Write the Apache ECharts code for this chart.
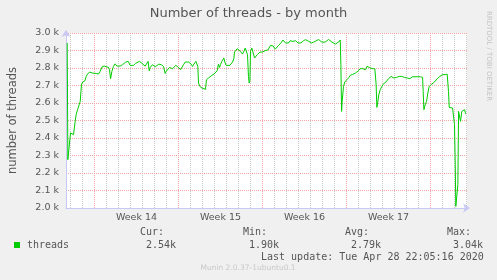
<!DOCTYPE html>
<html>
<head>
<meta charset="utf-8">
<script src="https://cdn.jsdelivr.net/npm/echarts@6/dist/echarts.min.js"></script>
<style>
html,body{margin:0;padding:0;background:#f0f0f0;}
#c{width:497px;height:280px;}
</style>
</head>
<body>
<div id="c"></div>
<script>
// x = days since Monday of week 14 (00:00)
const days = [
-2.275,-2.22,-2.17,-2.0,-1.89,-1.75,-1.61,-1.53,-1.41,-1.275,-1.19,-1.13,-1.08,-0.97,-0.80,-0.69,-0.58,-0.41,-0.25,-0.16,
-0.025,0.14,0.33,0.47,0.64,0.81,0.97,1.17,1.25,1.34,1.45,1.58,1.72,1.86,2.0,2.14,2.33,2.47,2.61,2.81,
2.97,3.11,3.25,3.42,3.58,3.75,3.86,4.03,4.22,4.36,4.47,4.56,4.64,4.72,4.83,4.92,5.06,5.2,5.36,5.56,
5.75,5.89,5.97,6.08,6.25,6.31,6.50,6.64,6.78,6.89,7.0,7.17,7.28,7.42,7.56,7.70,7.84,7.95,8.06,8.17,
8.28,8.45,8.56,8.61,8.67,8.78,8.95,9.11,9.25,9.33,9.50,9.64,9.78,9.95,10.11,10.22,10.33,10.42,10.50,10.61,
10.70,10.78,10.86,10.97,11.11,11.28,11.39,11.50,11.61,11.67,11.78,11.89,12.0,12.17,12.25,12.33,12.45,12.56,12.67,12.75,
12.83,12.89,12.95,13.0,13.11,13.22,13.34,13.45,13.56,13.67,13.78,13.89,14.0,14.11,14.22,14.33,14.45,14.56,14.67,14.78,
14.89,15.06,15.20,15.34,15.48,15.59,15.70,15.81,15.92,16.03,16.17,16.31,16.42,16.53,16.64,16.75,16.86,16.97,17.09,17.20,
17.31,17.42,17.59,17.70,17.86,17.97,18.09,18.25,18.39,18.53,18.67,18.81,18.95,19.09,19.22,19.36,19.50,19.64,19.78,19.92,
20.06,20.20,20.34,20.48,20.53,20.59,20.64,20.75,20.86,21.03,21.20,21.31,21.48,21.59,21.75,21.86,21.98,22.14,22.25,22.36,
22.48,22.59,22.70,22.81,22.92,23.03,23.14,23.25,23.36,23.42,23.47,23.53,23.61,23.69,23.81,23.95,24.06,24.17,24.28,24.39,
24.50,24.61,24.72,24.84,24.95,25.06,25.17,25.28,25.39,25.50,25.61,25.72,25.84,25.95,26.06,26.17,26.28,26.39,26.50,26.61,
26.72,26.84,26.95,27.06,27.17,27.28,27.34,27.39,27.45,27.56,27.67,27.78,27.89,28.0,28.11,28.22,28.33,28.45,28.56,28.67,
28.78,28.89,29.0,29.11,29.22,29.34,29.39,29.45,29.50,29.56,29.67,29.84,29.95,30.0,30.06,30.11,30.17,30.22,30.28,30.34,
30.39,30.45,30.50,30.56,30.61,30.72,30.84,30.89,30.95
];
const threads = [
2943,2276,2286,2429,2419,2419,2495,2533,2562,2590,2609,2666,2708,2720,2727,2752,2765,2777,2784,2771,
2765,2769,2765,2781,2807,2811,2803,2803,2790,2739,2781,2809,2824,2811,2803,2811,2819,2828,2834,2838,
2815,2811,2815,2826,2832,2838,2841,2822,2811,2822,2838,2784,2803,2800,2819,2822,2807,2803,2822,2819,
2809,2769,2781,2788,2803,2796,2796,2803,2815,2822,2803,2790,2800,2819,2834,2841,2834,2838,2822,2809,
2822,2838,2846,2809,2714,2695,2686,2680,2678,2733,2743,2750,2758,2765,2762,2784,2822,2803,2819,2838,
2849,2857,2834,2815,2807,2815,2819,2834,2853,2891,2886,2910,2914,2895,2903,2880,2895,2914,2918,2876,
2752,2714,2727,2895,2914,2905,2857,2867,2876,2872,2891,2895,2891,2895,2899,2891,2903,2910,2929,2933,
2926,2908,2918,2929,2937,2948,2960,2956,2943,2933,2943,2956,2948,2952,2963,2956,2948,2943,2937,2943,
2952,2956,2962,2956,2952,2952,2943,2943,2952,2960,2963,2952,2948,2948,2948,2956,2963,2956,2948,2943,
2937,2943,2948,2960,2819,2552,2609,2695,2720,2733,2746,2758,2762,2771,2771,2781,2784,2796,2803,2796,
2803,2790,2809,2809,2803,2796,2796,2800,2796,2790,2705,2575,2605,2647,2676,2695,2708,2705,2720,2727,
2739,2746,2752,2746,2743,2739,2746,2743,2752,2758,2752,2746,2746,2743,2743,2746,2739,2746,2750,2746,
2750,2752,2750,2746,2750,2752,2746,2666,2562,2590,2609,2657,2695,2705,2708,2708,2720,2727,2739,2746,
2752,2758,2762,2758,2762,2758,2765,2762,2666,2575,2571,2571,2567,2476,2247,2009,2003,2009,2133,2552,
2548,2514,2495,2505,2552,2556,2562,2548,2537
];
const weekLabels = ['Week 14','Week 15','Week 16','Week 17'];
const weekLabelPos = [3.5, 10.5, 17.5, 24.5];
const yTicks = [2000,2100,2200,2300,2400,2500,2600,2700,2800,2900,3000];
const legendStats = [['Cur:','2.54k'],['Min:','1.90k'],['Avg:','2.79k'],['Max:','3.04k']];
const lastUpdate = 'Last update: Tue Apr 28 22:05:16 2020';

// axis geometry: 12 px per day, day 0 (Monday of week 14) at x = 94.5
const pxDay = 12, x0 = 94.5, plotTop = 33, plotH = 175;
const xMin = -2.375, xMax = 31.042;
const gridFor = (lo, hi) => ({left: x0 + lo*pxDay, width: (hi-lo)*pxDay, top: plotTop, height: plotH,
  show:false, containLabel:false, outerBoundsMode:'none'});

const chart = echarts.init(document.getElementById('c'), null, {renderer:'canvas'});
const mono = '10px "DejaVu Sans Mono"';
const gray = '#555';
const statX = [140, 243, 345, 447];
const graphics = [
  {type:'rect', shape:{x:14,y:242,width:6,height:6}, style:{fill:'#00cc00'}},
  {type:'text', style:{x:27,y:245,text:'threads',font:mono,fill:gray,textAlign:'left',textVerticalAlign:'middle'}},
  {type:'text', style:{x:261,y:257,text:lastUpdate,font:mono,fill:gray,textAlign:'left',textVerticalAlign:'middle'}},
  {type:'text', style:{x:248,y:268.5,text:'Munin 2.0.37-1ubuntu0.1',font:'7.5px "DejaVu Sans"',fill:'#c8c8c8',textAlign:'center',textVerticalAlign:'middle'}},
  {type:'text', x:488.5, y:56, rotation:-Math.PI/2, style:{x:0,y:0,text:'RRDTOOL / TOBI OETIKER',font:'7px "DejaVu Sans"',fill:'#c4c4c4',textAlign:'center',textVerticalAlign:'middle'}}
];
legendStats.forEach((s, i) => {
  graphics.push({type:'text', style:{x:statX[i],y:232.5,text:s[0],font:mono,fill:gray,textAlign:'left',textVerticalAlign:'middle'}});
  graphics.push({type:'text', style:{x:statX[i]+6,y:245,text:s[1],font:mono,fill:gray,textAlign:'left',textVerticalAlign:'middle'}});
});

const pts = days.map((d,i)=>[d, threads[i]]);
const hiddenY = (gi) => ({type:'value', gridIndex:gi, min:0, max:1, show:false});
const gridX = (gi, lo, hi, step, color, z) => ({type:'value', gridIndex:gi, min:lo, max:hi, interval:step, z:z,
  axisLine:{show:false}, axisTick:{show:false}, axisLabel:{show:false},
  splitLine:{show:true, showMinLine:true, showMaxLine:true, lineStyle:{color:color, type:[1,1], width:1}}});

chart.setOption({
  backgroundColor:'#f0f0f0',
  animation:false,
  title:{text:'Number of threads - by month', left:'center', top:2,
    textStyle:{fontFamily:'DejaVu Sans', fontSize:13, fontWeight:'normal', color:gray}},
  grid:[
    {left:x0 + xMin*pxDay, width:(xMax-xMin)*pxDay, top:plotTop, height:plotH, show:true, backgroundColor:'#ffffff', borderWidth:0,
      containLabel:false, outerBoundsMode:'none'},
    gridFor(-2, 31),
    gridFor(0, 28)
  ],
  xAxis:[
    {type:'value', gridIndex:0, min:xMin, max:xMax, z:3,
      axisLine:{show:true, onZero:false, lineStyle:{color:'#c8c8f4', width:1}, symbol:['none','arrow'], symbolSize:[7,7], symbolOffset:[0,3]},
      axisTick:{show:false},
      splitLine:{show:false},
      axisLabel:{customValues:weekLabelPos, formatter:(v)=>{const i=weekLabelPos.indexOf(v);return i>=0?weekLabels[i]:'';},
        fontFamily:'DejaVu Sans', fontSize:9.5, color:gray, margin:5}
    },
    gridX(1, -2, 31, 1, '#c8c8c8', 0),
    gridX(2, 0, 28, 7, '#f0a4a4', 1)
  ],
  yAxis:[
    {type:'value', gridIndex:0, min:yTicks[0], max:yTicks[yTicks.length-1], interval:100, z:3,
      name:'number of threads', nameLocation:'middle', nameRotate:90, nameGap:47,
      nameTextStyle:{fontFamily:'DejaVu Sans', fontSize:11.5, color:gray},
      axisLine:{show:true, onZero:false, lineStyle:{color:'#c8c8f4', width:1}, symbol:['none','arrow'], symbolSize:[7,7], symbolOffset:[0,3]},
      axisTick:{show:false},
      splitLine:{show:true, lineStyle:{color:'#f0a4a4', type:[1,1], width:1}},
      axisLabel:{formatter:(v)=>(v/1000).toFixed(1)+' k', fontFamily:'DejaVu Sans', fontSize:9.5, color:gray, margin:7}
    },
    hiddenY(1),
    hiddenY(2)
  ],
  graphic:graphics,
  series:[
    {type:'line', name:'threads', xAxisIndex:0, yAxisIndex:0, z:5, showSymbol:false, symbol:'none',
      data: pts,
      lineStyle:{color:'#00cc00', width:1}, itemStyle:{color:'#00cc00'}}
  ]
});
</script>
</body>
</html>
